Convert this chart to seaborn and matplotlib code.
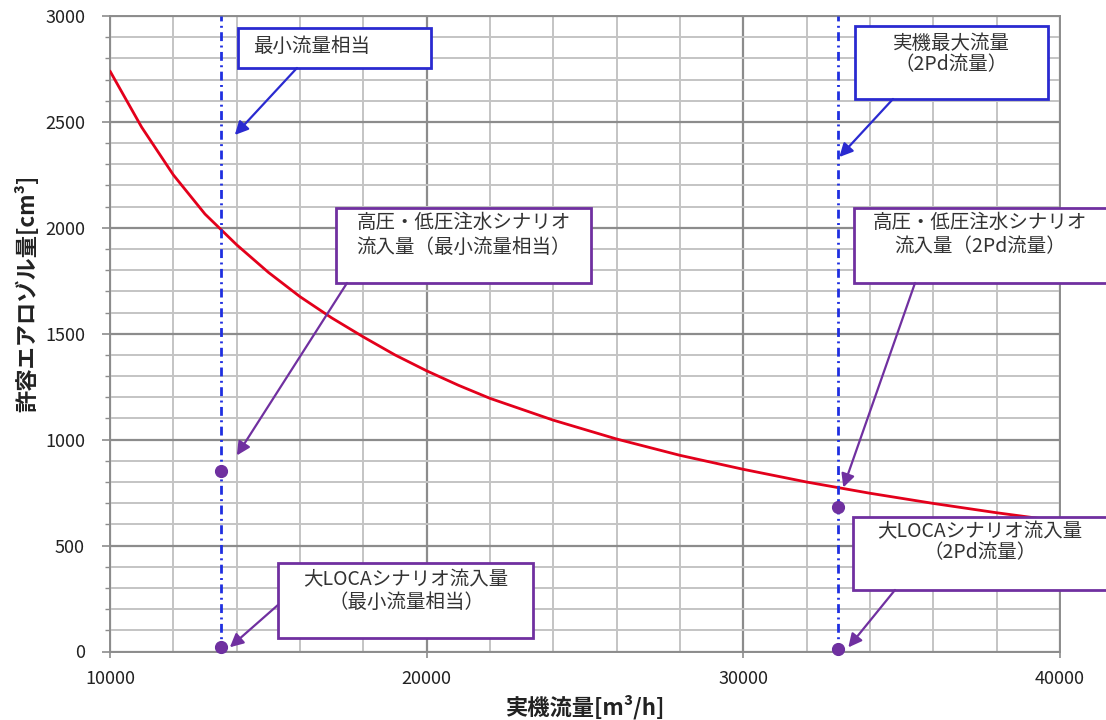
import numpy as np
import pandas as pd
import seaborn as sns
import matplotlib.pyplot as plt
from matplotlib.patches import Rectangle
from matplotlib.ticker import MultipleLocator
import matplotlib.transforms as mtransforms

# Allowable aerosol volume versus actual flow rate
flow = [10000, 11000, 12000, 13000, 14000, 15000, 16000, 17000, 18000, 19000,
        20000, 21000, 22000, 24000, 26000, 28000, 30000, 32000, 34000, 36000,
        38000, 40000]
aerosol = [2740, 2475, 2250, 2065, 1920, 1790, 1675, 1575, 1485, 1400,
           1325, 1257, 1195, 1092, 1003, 926, 860, 800, 747, 699,
           655, 615]

# Reference flow rates
min_flow = 13500     # 最小流量相当
max_flow = 33000     # 実機最大流量 (2Pd流量)

# Inflow volumes for each scenario
scen_flow = [min_flow, min_flow, max_flow, max_flow]
scen_vol = [850, 20, 680, 10]

x_label = "実機流量[m³/h]"
y_label = "許容エアロゾル量[cm³]"

sns.set_theme(style="white")
plt.rcParams["font.family"] = ["Noto Sans CJK JP", "DejaVu Sans"]

W, H = 1106, 720
fig = plt.figure(figsize=(W / 100, H / 100), dpi=100)
L, R, T, B = 110, 1060, 16, 651.5
ax = fig.add_axes([L / W, 1 - B / H, (R - L) / W, (B - T) / H])

# Grid: coarse lines darker, fine lines lighter
ax.set_xlim(10000, 40000)
ax.set_ylim(0, 3000)
ax.xaxis.set_major_locator(MultipleLocator(10000))
ax.xaxis.set_minor_locator(MultipleLocator(2000))
ax.yaxis.set_major_locator(MultipleLocator(500))
ax.yaxis.set_minor_locator(MultipleLocator(100))
ax.grid(which="major", color="#8c8c8c", lw=1.6, zorder=0)
ax.grid(which="minor", color="#c4c4c4", lw=1.4, zorder=0)
ax.set_axisbelow(True)
for s in ax.spines.values():
    s.set_color("#8c8c8c")
    s.set_linewidth(1.4)

ax.tick_params(axis="y", which="major", direction="out", length=6, width=1.2,
               color="#8c8c8c", pad=12, labelsize=13, labelcolor="#222222", left=True)
ax.tick_params(axis="y", which="minor", direction="out", length=3.5, width=1.0,
               color="#8c8c8c", left=True)
ax.tick_params(axis="x", which="major", direction="out", length=4, width=1.2,
               color="#8c8c8c", pad=9, labelsize=13, labelcolor="#222222", bottom=True)
ax.tick_params(axis="x", which="minor", length=0)

# Curve
df = pd.DataFrame({"flow": flow, "aerosol": aerosol})
sns.lineplot(data=df, x="flow", y="aerosol", ax=ax, color="#e3001b", lw=2.0,
             zorder=3, legend=False)

# Reference flow lines
for fx in (min_flow, max_flow):
    ax.axvline(fx, color="#1f2fe0", lw=2.0, dashes=(3.2, 1.6, 0.7, 1.6), zorder=4)

# Scenario points
pts = pd.DataFrame({"flow": scen_flow, "vol": scen_vol})
sns.scatterplot(data=pts, x="flow", y="vol", ax=ax, color="#7030a0", s=75,
                edgecolor="#6a2fa0", linewidth=0.8, zorder=6, clip_on=False, legend=False)

ax.set_xlabel(x_label, fontsize=16, fontweight="bold", color="#222222")
ax.set_ylabel(y_label, fontsize=16, fontweight="bold", color="#222222")
ax.xaxis.set_label_coords(0.5, -0.068)
ax.yaxis.set_label_coords(-0.074, 0.564)

BLUE = "#2a2ad0"
PURPLE = "#7030a0"
TXT = "#333333"


def box(x0, y0, x1, y1, color):
    ax.add_patch(Rectangle((x0, y0), x1 - x0, y1 - y0, transform=ax.transAxes,
                           facecolor="white", edgecolor=color, lw=2.0,
                           zorder=8, clip_on=False))


def lines(cx, ys, texts, ha="center"):
    for y, t in zip(ys, texts):
        ax.text(cx, y, t, transform=ax.transAxes, ha=ha, va="center",
                fontsize=14, color=TXT, zorder=9)


def arrow(tail, target, dx, dy, color, xtrans=None):
    base = xtrans if xtrans is not None else ax.transData
    trans = base + mtransforms.ScaledTranslation(dx / 100, dy / 100, fig.dpi_scale_trans)
    ax.annotate("", xy=target, xycoords=trans, xytext=tail, textcoords="axes fraction",
                arrowprops=dict(arrowstyle="-|>", color=color, lw=1.6,
                                mutation_scale=20, shrinkA=0, shrinkB=0),
                zorder=10, annotation_clip=False)


blend = mtransforms.blended_transform_factory(ax.transData, ax.transAxes)

# 最小流量相当
box(0.1347, 0.9182, 0.3379, 0.9811, BLUE)
lines(0.1505, [0.9528], ["最小流量相当"], ha="left")
arrow((0.1968, 0.9182), (min_flow, 0.8128), 14, 0, BLUE, blend)

# 実機最大流量
box(0.7842, 0.8694, 0.9874, 0.9843, BLUE)
lines(0.8853, [0.9575, 0.9229], ["実機最大流量", "（2Pd流量）"])
arrow((0.8242, 0.8694), (max_flow, 0.7781), 1, 0, BLUE, blend)

# 高圧・低圧注水シナリオ (最小流量)
box(0.2379, 0.5799, 0.5063, 0.6979, PURPLE)
lines(0.3721, [0.6743, 0.6365], ["高圧・低圧注水シナリオ", "流入量（最小流量相当）"])
arrow((0.2495, 0.5799), (scen_flow[0], scen_vol[0]), 16, 16, PURPLE)

# 高圧・低圧注水シナリオ (2Pd流量)
box(0.7832, 0.5799, 1.0526, 0.6979, PURPLE)
lines(0.9158, [0.6743, 0.6365], ["高圧・低圧注水シナリオ", "流入量（2Pd流量）"])
arrow((0.8474, 0.5799), (scen_flow[2], scen_vol[2]), 5, 20, PURPLE)

# 大LOCAシナリオ (最小流量)
box(0.1768, 0.0212, 0.4453, 0.1393, PURPLE)
lines(0.3116, [0.1126, 0.0764], ["大LOCAシナリオ流入量", "（最小流量相当）"])
arrow((0.1768, 0.0732), (scen_flow[1], scen_vol[1]), 9, 0, PURPLE)

# 大LOCAシナリオ (2Pd流量)
box(0.7821, 0.0968, 1.0526, 0.2117, PURPLE)
lines(0.9158, [0.1881, 0.1550], ["大LOCAシナリオ流入量", "（2Pd流量）"])
arrow((0.8263, 0.0968), (scen_flow[3], scen_vol[3]), 10, 2, PURPLE)

fig.savefig("out.png", dpi=100, facecolor="white")
